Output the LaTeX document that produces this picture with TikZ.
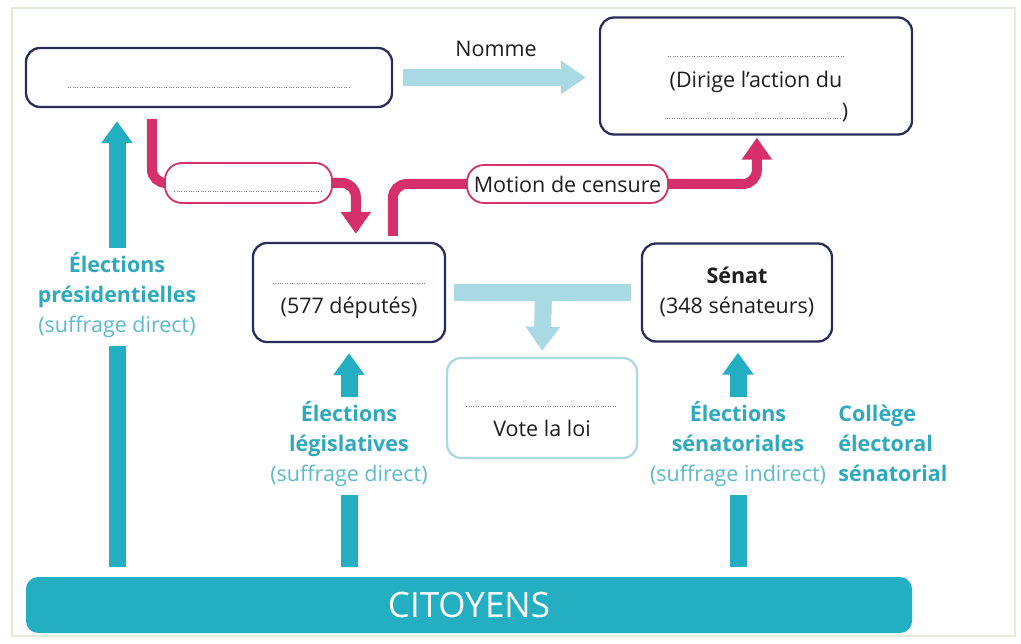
\documentclass[tikz,border=0pt]{standalone}
\usepackage{fontspec}
\setmainfont{Open Sans}
\usetikzlibrary{arrows.meta, positioning, calc}

\definecolor{marine}{HTML}{2B2C5C}
\definecolor{sarcelle}{HTML}{23AEC1}
\definecolor{sarcelletxt}{HTML}{2FA9BE}
\definecolor{sarcellepale}{HTML}{5CBACA}
\definecolor{bleuclair}{HTML}{A9DAE3}
\definecolor{framboise}{HTML}{D5306A}
\definecolor{cadre}{HTML}{E3ECD6}
\definecolor{encre}{HTML}{1E1E1E}

\newcommand\taille{\fontsize{21.5}{30}\selectfont}
\newcommand\haut[1]{\rule{0pt}{#1pt}}
\newcommand\pointilles[1]{\leavevmode\hbox to #1pt{\color{black!50}\leaders\hbox to 2.4pt{\hss\rule{0.9pt}{0.9pt}\hss}\hfill}}

\pgfdeclarelayer{fond}
\pgfsetlayers{fond,main}

\tikzset{
  institution/.style={draw=marine, line width=2.3pt, rounded corners=14pt,
    fill=white, align=center, inner sep=0pt, font=\taille, text=encre},
  etiquette/.style={draw=framboise, line width=1.8pt, rounded corners=17pt,
    fill=white, inner sep=0pt, font=\taille, text=encre},
  election/.style={align=center, fill=white, inner xsep=0pt, inner ysep=4pt,
    font=\taille, text=sarcelletxt},
  fleche sarcelle/.style={draw=sarcelle, line width=17pt,
    -{Triangle[width=30pt,length=22pt]}},
  fleche rose/.style={draw=framboise, line width=10pt, rounded corners=14pt,
    -{Triangle[width=29pt,length=22pt]}},
  fleche claire/.style={draw=bleuclair, line width=17pt},
}

\begin{document}
\begin{tikzpicture}[x=1pt, y=-1pt]

\useasboundingbox (0,0) rectangle (1021,644);

% les pouvoirs
\node[institution, minimum width=366pt, minimum height=59pt] (president) at (209,77.5)
  {\haut{30}\pointilles{284}\strut};
\node[institution, minimum width=312pt, minimum height=117pt] (premier) at (756,76)
  {\haut{33}\pointilles{178}\\[1pt](Dirige l’action du\strut\\[1pt]\pointilles{178})\strut};
\node[institution, minimum width=192pt, minimum height=99pt] (assemblee) at (349,292.5)
  {\pointilles{154}\strut\\(577 députés)\strut};
\node[institution, minimum width=190pt, minimum height=98pt] (senat) at (737,292.5)
  {\textbf{Sénat}\strut\\(348 sénateurs)\strut};
\node[institution, draw=bleuclair, minimum width=190pt, minimum height=100pt] (vote) at (542,408)
  {\haut{37}\pointilles{153}\\Vote la loi\strut};
\node[institution, draw=none, fill=sarcelle, rounded corners=12pt, minimum width=886pt,
  minimum height=56pt, text=white, font=\fontsize{35}{40}\selectfont] (citoyens) at (469,605) {CITOYENS};

% étiquettes roses
\node[etiquette, minimum width=167pt, minimum height=40pt] (dissolution) at (248.5,183)
  {\haut{18}\pointilles{150}};
\node[etiquette, minimum width=201pt, minimum height=38pt] (motion) at (567.5,184)
  {Motion de censure};

% élections
\node[election] (elecpres) at (117,297)
  {\textbf{Élections}\strut\\\textbf{présidentielles}\strut\\{\color{sarcellepale}(suffrage direct)}\strut};
\node[election] (elecleg) at (349,446)
  {\textbf{Élections}\strut\\\textbf{législatives}\strut\\{\color{sarcellepale}(suffrage direct)}\strut};
\node[election] (elecsen) at (738,446)
  {\textbf{Élections}\strut\\\textbf{sénatoriales}\strut\\{\color{sarcellepale}(suffrage indirect)}\strut};
\node[election, fill=none, inner ysep=0pt, align=left, right=12pt of elecsen] (college)
  {\textbf{Collège}\strut\\\textbf{électoral}\strut\\\textbf{sénatorial}\strut};

\begin{pgfonlayer}{fond}
\fill[white] (0,0) rectangle (1021,644);
\draw[cadre, line width=1.5pt] (12,8) rectangle (1015,636);

% flèches
\draw[fleche claire, -{Triangle[width=32pt,length=25pt]}, shorten <=10pt, shorten >=13pt]
  (president.east) -- (premier.west |- president.east)
  node[midway, above=9pt, font=\taille, text=encre] (nomme) {Nomme};

\draw[fleche rose] ($(president.south west)+(127,11)$) |- (dissolution.center)
  -| ($(assemblee.north west)+(104,-8)$);
\draw[fleche rose] ($(assemblee.north west)+(141,-6)$) |- (motion.center)
  -| ($(premier.south west)+(158,2)$);

\draw[fleche claire, shorten <=8pt, shorten >=10pt] (assemblee.east) -- (senat.west);
\coordinate (jonction) at ($(assemblee.east)!0.5!(senat.west)$);
\draw[fleche claire, -{Triangle[width=33pt,length=24pt]}, shorten >=6pt] (jonction) -- (vote.north);

\draw[fleche sarcelle, shorten <=9pt, shorten >=13pt] (citoyens.north -| elecpres) -- (president.south -| elecpres);
\draw[fleche sarcelle, shorten <=9pt, shorten >=10pt] (citoyens.north -| elecleg) -- (assemblee.south -| elecleg);
\draw[fleche sarcelle, shorten <=9pt, shorten >=10pt] (citoyens.north -| elecsen) -- (senat.south -| elecsen);
\end{pgfonlayer}

\end{tikzpicture}
\end{document}
